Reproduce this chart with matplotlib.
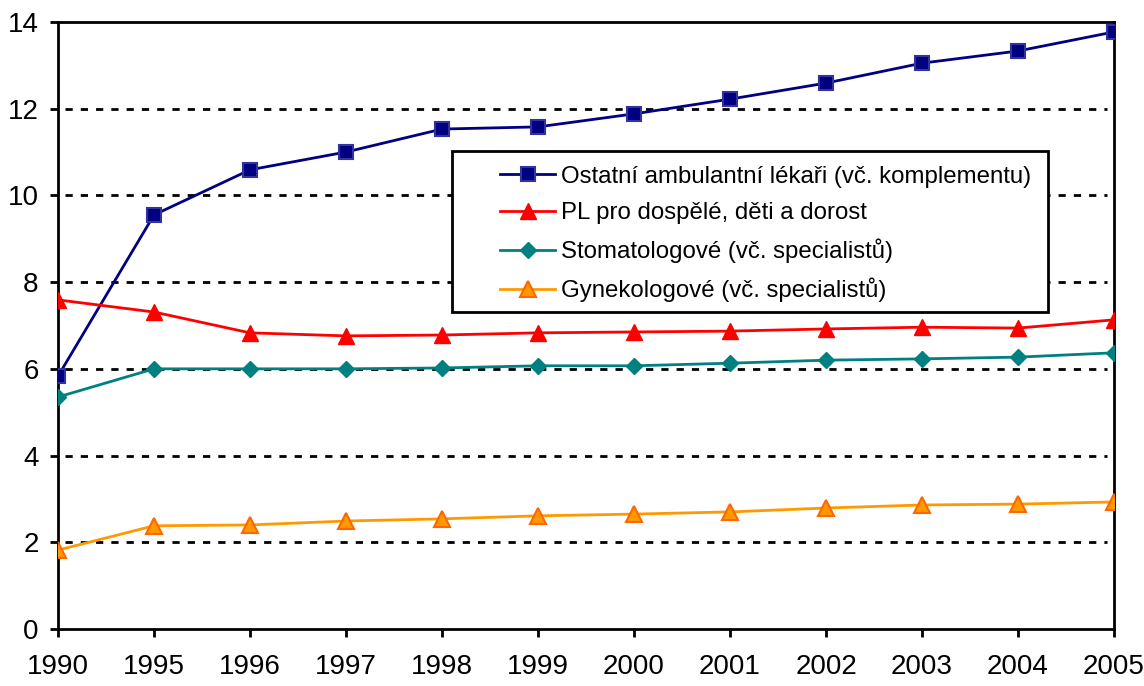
import matplotlib
matplotlib.use("Agg")
import matplotlib.pyplot as plt
from matplotlib.patches import Rectangle

years = ["1990", "1995", "1996", "1997", "1998", "1999", "2000", "2001", "2002", "2003", "2004", "2005"]
ostatni = [5.83, 9.55, 10.59, 11.0, 11.53, 11.58, 11.88, 12.22, 12.59, 13.05, 13.33, 13.77]
pl = [7.59, 7.31, 6.83, 6.76, 6.78, 6.83, 6.85, 6.87, 6.92, 6.96, 6.94, 7.13]
stomat = [5.35, 6.0, 6.0, 6.0, 6.02, 6.07, 6.07, 6.13, 6.2, 6.23, 6.27, 6.37]
gyn = [1.82, 2.38, 2.4, 2.49, 2.54, 2.61, 2.65, 2.7, 2.79, 2.86, 2.88, 2.93]
labels = ["Ostatní ambulantní lékaři (vč. komplementu)",
          "PL pro dospělé, děti a dorost",
          "Stomatologové (vč. specialistů)",
          "Gynekologové (vč. specialistů)"]
yticks = [0, 2, 4, 6, 8, 10, 12, 14]

plt.rcParams['font.family'] = ['Liberation Sans Narrow', 'Liberation Sans', 'DejaVu Sans']

fig = plt.figure(figsize=(11.44, 6.86), dpi=100)
ax = fig.add_axes([0.0507, 0.0831, 0.9231, 0.8849])
x = list(range(len(years)))

ax.plot(x, ostatni, color="#000080", lw=2, marker="s", ms=10, mfc="#000080", mec="#3333a0", mew=1.5, label=labels[0], zorder=5)
ax.plot(x, pl, color="#ff0000", lw=2, marker="^", ms=12, mfc="#ff0000", mec="#ff0000", label=labels[1], zorder=5)
ax.plot(x, stomat, color="#008080", lw=2, marker="D", ms=8.5, mfc="#008080", mec="#008080", label=labels[2], zorder=5)
ax.plot(x, gyn, color="#ff9900", lw=2, marker="^", ms=12, mfc="#ff9900", mec="#ff6600", mew=1.5, label=labels[3], zorder=5)

ax.set_xlim(0, len(years) - 1)
ax.set_ylim(0, 14)
ax.set_xticks(x)
ax.set_xticklabels(years, fontsize=20)
ax.set_yticks(yticks)
ax.set_yticklabels([str(v) for v in yticks], fontsize=20)
ax.tick_params(axis="both", direction="out", length=6, width=2, color="black")
ax.tick_params(axis="x", pad=12)
ax.tick_params(axis="y", pad=8)

for v in yticks[1:-1]:
    ax.axhline(v, xmin=0.007, xmax=0.993, color="black", lw=2, ls=(0, (2.6, 2.9)), zorder=1)

for s in ["left", "bottom", "right", "top"]:
    ax.spines[s].set_linewidth(2)
    ax.spines[s].set_color("black")

# legend frame drawn as a rectangle (reference has wide left padding)
bx0, bx1 = 0.3731, 0.9375
by0, by1 = 0.5222, 0.7875
ax.add_patch(Rectangle((bx0, by0), bx1 - bx0, by1 - by0, transform=ax.transAxes,
                       facecolor="white", edgecolor="black", lw=2, zorder=6))
leg = ax.legend(loc="upper left", bbox_to_anchor=(0.4186, 0.763), fontsize=17.3, frameon=False,
                handlelength=2.3, labelspacing=0.6, borderpad=0, handletextpad=0.25,
                borderaxespad=0)
leg.set_zorder(7)

fig.savefig("out.png", dpi=100)
